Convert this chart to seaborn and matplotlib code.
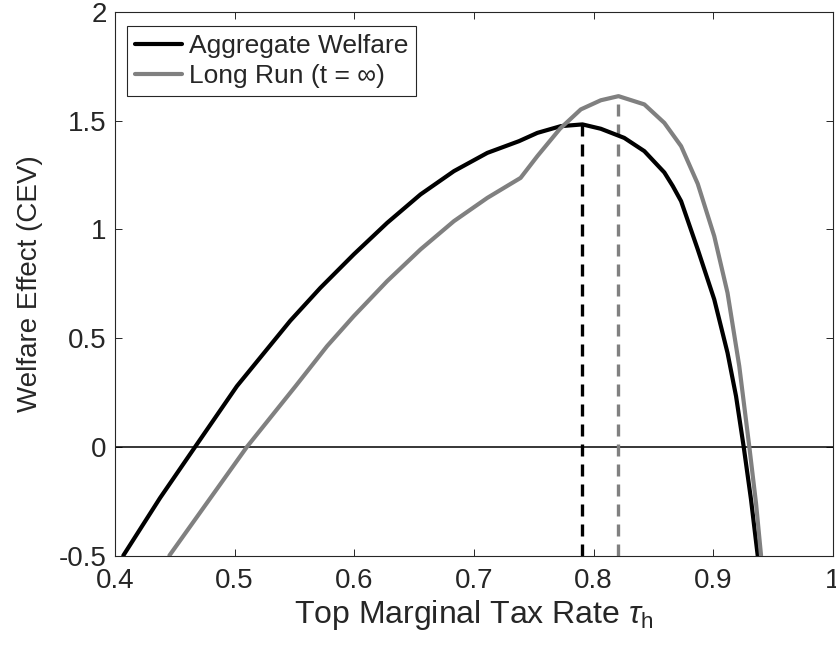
import matplotlib
matplotlib.use("Agg")
import matplotlib.pyplot as plt
import pandas as pd
import seaborn as sns

# Welfare effect (CEV) against the top marginal tax rate
tau_aggregate = [0.4071, 0.4378, 0.4671, 0.502, 0.5466, 0.5717, 0.5996, 0.6275,
                 0.6554, 0.6833, 0.7112, 0.7377, 0.753, 0.7726, 0.7907, 0.806,
                 0.8256, 0.8424, 0.8591, 0.8661, 0.8731, 0.8869, 0.9008, 0.9119,
                 0.919, 0.9254, 0.9315, 0.9371]
cev_aggregate = [-0.5, -0.235, 0.0, 0.279, 0.58, 0.731, 0.885, 1.030,
                 1.161, 1.268, 1.352, 1.406, 1.444, 1.475, 1.483, 1.463,
                 1.421, 1.360, 1.262, 1.20, 1.13, 0.91, 0.678, 0.432,
                 0.233, 0.0, -0.242, -0.5]

tau_longrun = [0.4456, 0.5104, 0.551, 0.5773, 0.5996, 0.6275, 0.6554, 0.6833,
               0.7112, 0.739, 0.753, 0.7719, 0.7893, 0.806, 0.8208, 0.8424,
               0.8591, 0.8731, 0.887, 0.9008, 0.9119, 0.9217, 0.9301, 0.9357,
               0.9399]
cev_longrun = [-0.5, 0.0, 0.279, 0.463, 0.601, 0.762, 0.908, 1.038,
               1.145, 1.237, 1.337, 1.463, 1.552, 1.594, 1.613, 1.575,
               1.490, 1.383, 1.210, 0.969, 0.708, 0.371, 0.0, -0.26,
               -0.5]

series_names = ["Aggregate Welfare", "Long Run (t = \u221e)"]
series_colors = ["#000000", "#808080"]

# Optimal rates (peak of each curve)
opt_tau = [0.7907, 0.8208]
opt_cev = [1.483, 1.613]

x_ticks = [0.4, 0.5, 0.6, 0.7, 0.8, 0.9, 1.0]
x_ticklabels = ["0.4", "0.5", "0.6", "0.7", "0.8", "0.9", "1"]
y_ticks = [-0.5, 0, 0.5, 1, 1.5, 2]
y_ticklabels = ["-0.5", "0", "0.5", "1", "1.5", "2"]

df = pd.concat([
    pd.DataFrame({"tau": tau_aggregate, "cev": cev_aggregate, "series": series_names[0]}),
    pd.DataFrame({"tau": tau_longrun, "cev": cev_longrun, "series": series_names[1]}),
], ignore_index=True)

sns.set_theme(style="white")
plt.rcParams["font.family"] = ["Liberation Sans", "DejaVu Sans"]
plt.rcParams["mathtext.fontset"] = "custom"
plt.rcParams["mathtext.rm"] = "Liberation Sans"
plt.rcParams["mathtext.it"] = "Liberation Sans:italic"
plt.rcParams["axes.unicode_minus"] = False

fig = plt.figure(figsize=(8.37, 6.53), dpi=100)
ax = fig.add_axes([0.1372, 0.1493, 0.858, 0.8323])

ax.axhline(0, color="black", lw=1.1, zorder=1)

sns.lineplot(data=df, x="tau", y="cev", hue="series", hue_order=series_names,
             palette=series_colors, lw=3, sort=False, estimator=None,
             ax=ax, zorder=3)
for ln in ax.get_lines():
    ln.set_solid_joinstyle("round")

for t, c, col in zip(opt_tau, opt_cev, series_colors):
    ax.vlines(t, -0.5, c, colors=col, linestyles=(0, (3.6, 2.4)), lw=2.4, zorder=2)

ax.set_xlim(0.4, 1.0)
ax.set_ylim(-0.5, 2.0)
ax.set_xticks(x_ticks)
ax.set_xticklabels(x_ticklabels)
ax.set_yticks(y_ticks)
ax.set_yticklabels(y_ticklabels)

ax.tick_params(direction="in", length=5, width=0.7, colors="#262626",
               labelsize=20, labelcolor="#262626", top=True, right=True,
               bottom=True, left=True)
ax.tick_params(axis="x", pad=9)
ax.tick_params(axis="y", pad=6)
for s in ax.spines.values():
    s.set_color("#262626")
    s.set_linewidth(0.8)

ax.set_xlabel("Top Marginal Tax Rate $\\tau_{\\mathrm{h}}$", fontsize=23,
              color="#262626", labelpad=3)
ax.set_ylabel("Welfare Effect (CEV)", fontsize=20, color="#262626", labelpad=11)

leg = ax.legend(loc="upper left", bbox_to_anchor=(0.017, 0.974), fontsize=19,
                frameon=True, fancybox=False, framealpha=1, edgecolor="#262626",
                handlelength=1.8, handletextpad=0.25, borderpad=0.3,
                labelspacing=0.22, borderaxespad=0)
leg.get_frame().set_linewidth(0.8)
for line in leg.get_lines():
    line.set_linewidth(3)

fig.savefig("out.png", dpi=100)
